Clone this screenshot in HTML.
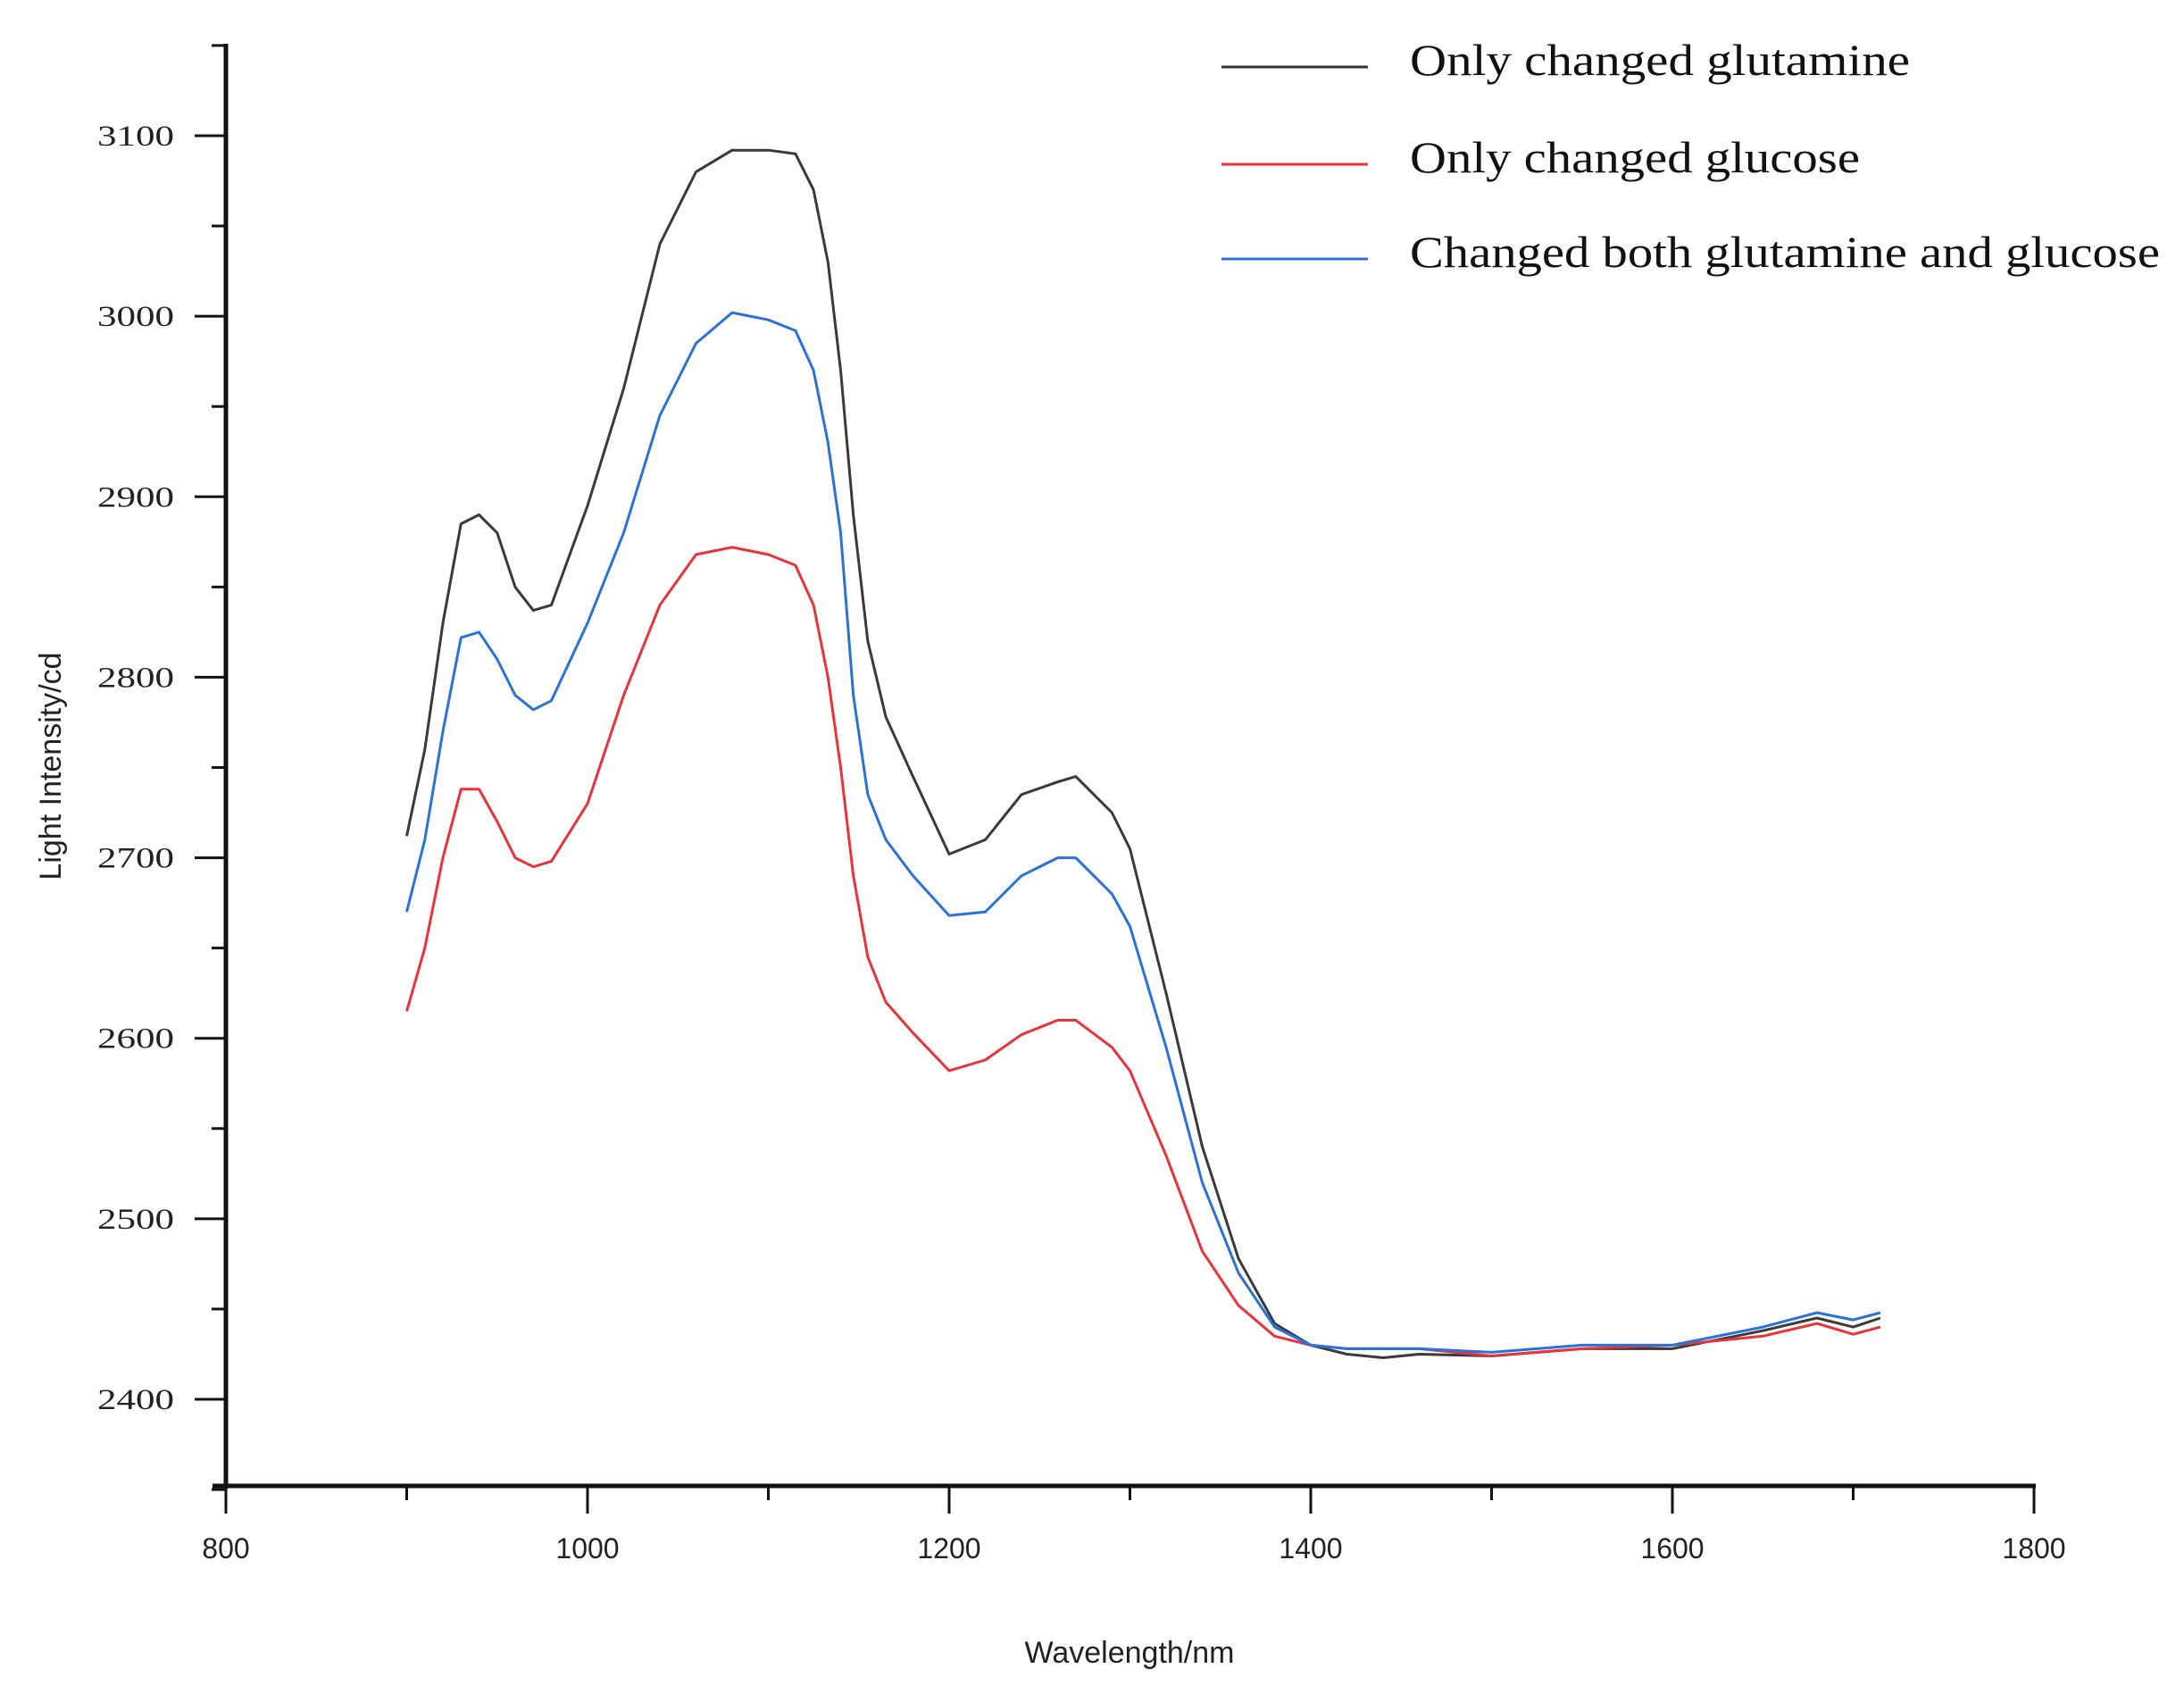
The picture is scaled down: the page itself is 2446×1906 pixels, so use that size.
<!DOCTYPE html>
<html><head><meta charset="utf-8"><style>
body{margin:0;background:#fff;}
svg{display:block;}
</style></head><body>
<svg id="chart" width="2446" height="1906" xmlns="http://www.w3.org/2000/svg">
<rect width="2446" height="1906" fill="#fff"/>
<g id="axes"></g>
<g id="series"></g>
<text transform="translate(68,858) rotate(-90)" text-anchor="middle" font-family="Liberation Sans, sans-serif" font-size="34" fill="#222">Light Intensity/cd</text>
<text x="1265" y="1862" text-anchor="middle" font-family="Liberation Sans, sans-serif" font-size="34" fill="#222">Wavelength/nm</text>
<g font-family="Liberation Serif, serif" font-size="50" fill="#111">
 <line x1="1368" y1="75" x2="1532" y2="75" stroke="#333" stroke-width="3"/>
 <text x="1579" y="84" textLength="560" lengthAdjust="spacingAndGlyphs">Only changed glutamine</text>
 <line x1="1368" y1="184" x2="1532" y2="184" stroke="#e8333a" stroke-width="3"/>
 <text x="1579" y="193" textLength="504" lengthAdjust="spacingAndGlyphs">Only changed glucose</text>
 <line x1="1368" y1="290" x2="1532" y2="290" stroke="#2a72d8" stroke-width="3"/>
 <text x="1579" y="299" textLength="840" lengthAdjust="spacingAndGlyphs">Changed both glutamine and glucose</text>
</g>
</svg>
<script>
const xTicks=[800,1000,1200,1400,1600,1800];
const yTicks=[2400,2500,2600,2700,2800,2900,3000,3100];
const wl=[900,910,920,930,940,950,960,970,980,1000,1020,1040,1060,1080,1100,1115,1125,1133,1140,1147,1155,1165,1180,1200,1220,1240,1260,1270,1290,1300,1320,1340,1360,1380,1400,1420,1440,1460,1500,1550,1600,1650,1680,1700,1715];
const glutamine=[2712,2760,2830,2885,2890,2880,2850,2837,2840,2895,2960,3040,3080,3092,3092,3090,3070,3030,2970,2890,2820,2778,2745,2702,2710,2735,2742,2745,2725,2705,2625,2540,2478,2442,2430,2425,2423,2425,2424,2428,2428,2438,2445,2440,2445];
const both=[2670,2710,2770,2822,2825,2810,2790,2782,2787,2830,2880,2945,2985,3002,2998,2992,2970,2930,2880,2790,2735,2710,2690,2668,2670,2690,2700,2700,2680,2662,2595,2520,2470,2440,2430,2428,2428,2428,2426,2430,2430,2440,2448,2444,2448];
const glucose=[2615,2650,2700,2738,2738,2720,2700,2695,2698,2730,2790,2840,2868,2872,2868,2862,2840,2800,2750,2690,2645,2620,2603,2582,2588,2602,2610,2610,2595,2582,2535,2482,2452,2435,2430,2428,2428,2428,2424,2428,2430,2435,2442,2436,2440];
const NS='http://www.w3.org/2000/svg';
function X(v){return 253+(v-800)*2.025;}
function Y(v){return 1567-(v-2400)*(1415/700);}
function mk(tag,attrs,parent){const e=document.createElementNS(NS,tag);for(const k in attrs)e.setAttribute(k,attrs[k]);parent.appendChild(e);return e;}
const ax=document.getElementById('axes');
let e;
e=mk('line',{x1:253,y1:49,x2:253,y2:1667,stroke:'#111','stroke-width':5},ax);


e=mk('line',{x1:238,y1:1664,x2:2280,y2:1664,stroke:'#111','stroke-width':5},ax);


for(let v=2350;v<=3150;v+=50){
 const major=v%100===0;
 e=mk('line',{x1:major?218:237,y1:Y(v),x2:253,y2:Y(v),stroke:'#111','stroke-width':3},ax);
 
 
}
yTicks.forEach(v=>{
 e=mk('text',{x:109,y:Y(v)+11,'font-family':'Liberation Serif, serif','font-size':33,fill:'#222',textLength:86,lengthAdjust:'spacingAndGlyphs'},ax);
 e.textContent=v;
 
 
});
for(let v=800;v<=1800;v+=100){
 const major=v%200===0;
 e=mk('line',{x1:X(v),y1:1664,x2:X(v),y2:major?1695:1680,stroke:'#111','stroke-width':3},ax);
 
 
}
xTicks.forEach(v=>{
 e=mk('text',{x:X(v),y:1745,'text-anchor':'middle','font-family':'Liberation Sans, sans-serif','font-size':32,fill:'#222'},ax);
 e.textContent=v;
 
 
});
const sg=document.getElementById('series');
function line(vals,color,name){
 const d=vals.map((v,i)=>(i?'L':'M')+X(wl[i]).toFixed(1)+','+Y(v).toFixed(1)).join('');
 const p=mk('path',{d:d,fill:'none',stroke:color,'stroke-width':3,'stroke-linejoin':'round'},sg);
 
 
}
line(glutamine,'#3a3a3a','series-glutamine');
line(glucose,'#e8333a','series-glucose');
line(both,'#2a72d8','series-both');
</script>
</body></html>
